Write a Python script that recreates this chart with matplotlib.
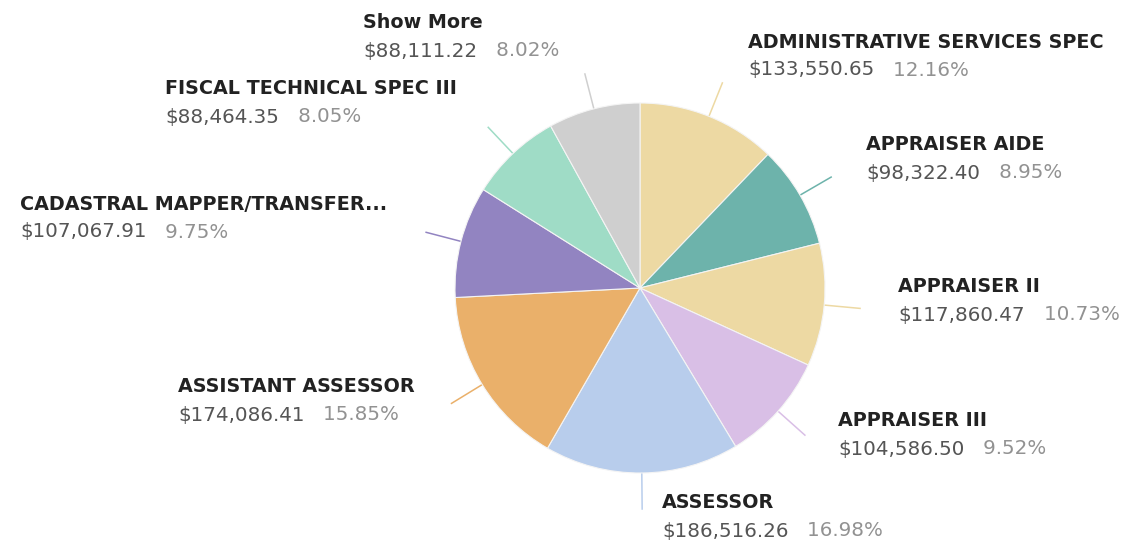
import numpy as np
import matplotlib
matplotlib.use('Agg')
import matplotlib.pyplot as plt

labels = ['ADMINISTRATIVE SERVICES SPEC', 'APPRAISER AIDE', 'APPRAISER II',
          'APPRAISER III', 'ASSESSOR', 'ASSISTANT ASSESSOR',
          'CADASTRAL MAPPER/TRANSFER...', 'FISCAL TECHNICAL SPEC III', 'Show More']
values = [133550.65, 98322.40, 117860.47, 104586.50, 186516.26, 174086.41,
          107067.91, 88464.35, 88111.22]
colors = ['#EDD9A3', '#6DB3AB', '#EDD9A3', '#D9BFE6', '#B8CDEC', '#EAB06A',
          '#9284C1', '#9FDCC6', '#CFCFCF']
# label anchor (pixel, top-left origin) for the title line
label_pos = [(748, 42), (866, 145), (898, 287), (838, 421), (662, 503),
             (178, 387), (20, 204), (165, 89), (363, 23)]

W, H = 1131, 556
fig = plt.figure(figsize=(W / 100, H / 100), dpi=100)
ax = fig.add_axes([0, 0, 1, 1])

cx, cy, r = 640, H - 288, 185
wedges, _ = ax.pie(values, colors=colors, startangle=90, counterclock=False,
                   center=(cx, cy), radius=r, frame=True,
                   wedgeprops=dict(linewidth=0.8, edgecolor='#f4f4f4'))
ax.set_xlim(0, W)
ax.set_ylim(0, H)
ax.set_aspect('equal')
ax.axis('off')

total = sum(values)
for w, lab, val, col, (lx, ly) in zip(wedges, labels, values, colors, label_pos):
    # leader line out of the middle of each slice
    mid = np.deg2rad((w.theta1 + w.theta2) / 2)
    x0, y0 = cx + (r - 2) * np.cos(mid), cy + (r - 2) * np.sin(mid)
    x1, y1 = cx + (r + 36) * np.cos(mid), cy + (r + 36) * np.sin(mid)
    ax.plot([x0, x1], [y0, y1], color=col, lw=1.1, zorder=0)
    ax.text(lx, H - ly, lab, fontsize=13.8, fontweight='bold', family='DejaVu Sans',
            color='#222222', va='center', ha='left')
    t = ax.text(lx, H - ly - 28, '${:,.2f}'.format(val), fontsize=14.3,
                family='DejaVu Sans', color='#555555', va='center', ha='left')
    ax.annotate('   {:.2f}%'.format(val / total * 100), xycoords=t,
                xy=(1, 0), va='bottom', ha='left', fontsize=14.3,
                family='DejaVu Sans', color='#929292')

fig.savefig('out.png', dpi=100)
